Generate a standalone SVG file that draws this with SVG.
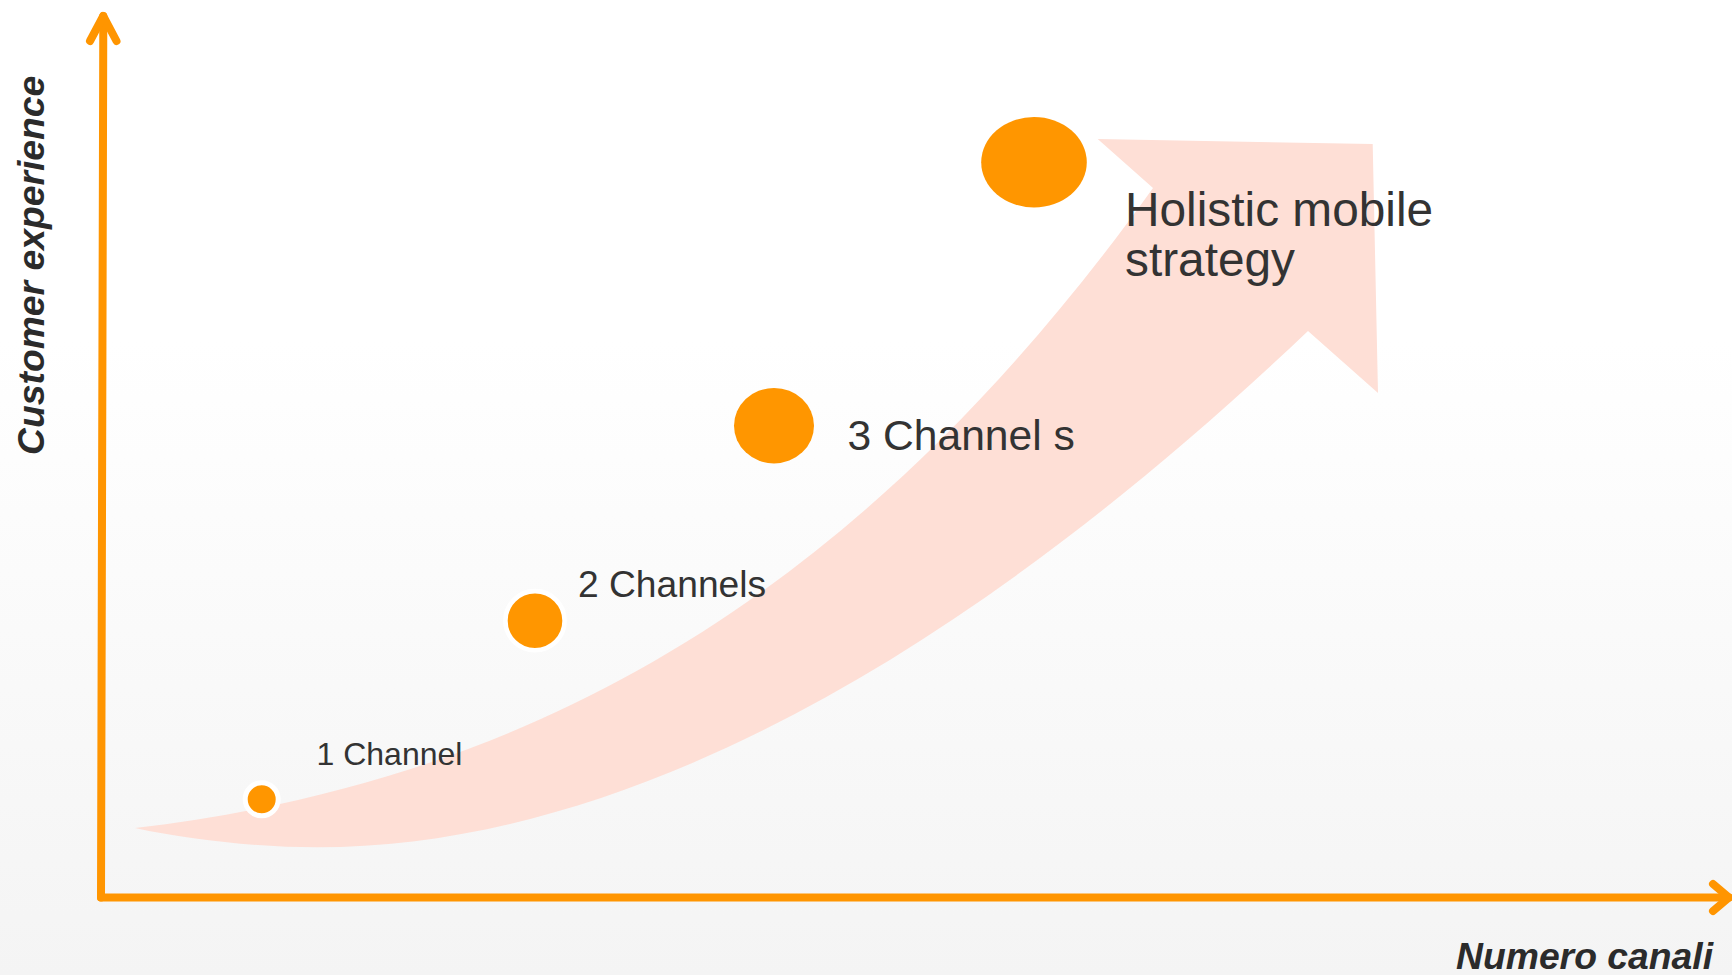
<svg xmlns="http://www.w3.org/2000/svg" width="1732" height="975" viewBox="0 0 1732 975">
  <defs>
    <linearGradient id="bg" x1="0" y1="0" x2="0" y2="1">
      <stop offset="0" stop-color="#FFFFFF"/>
      <stop offset="0.35" stop-color="#FFFFFF"/>
      <stop offset="1" stop-color="#F4F4F4"/>
    </linearGradient>
  </defs>
  <style>
    .axis { fill: none; stroke: #FF9500; stroke-width: 8; stroke-linecap: round; stroke-linejoin: round; }
    .dot { fill: #FF9600; }
    .lbl { font-family: "Liberation Sans", Arial, sans-serif; fill: #333333; }
    .axlbl { font-family: "Liberation Sans", Arial, sans-serif; fill: #2B2B2B; font-weight: bold; font-style: italic; font-size: 37.3px; }
  </style>
  <rect x="0" y="0" width="1732" height="975" fill="url(#bg)"/>

  <g id="growth-arrow">
    <path fill="#FEDFD6" d="M135,828 C520,782 850,610 1153,188 L1097.7,139 L1372.7,144 L1378,393 L1308,331 C978,644.5 636.7,847.3 316.7,847.3 C260,847.3 190,840 135,828 Z"/>
  </g>

  <g id="connectors">
    <path class="axis" d="M101,897.5 L103.3,16"/>
    <path class="axis" d="M90,41 L103.3,16 L116.5,41"/>
    <path class="axis" d="M101,897.5 L1729,897.5"/>
    <path class="axis" d="M1713,884 L1729,897.5 L1713,911"/>
  </g>

  <g id="y-label">
    <text class="axlbl" transform="translate(44,455) rotate(-90)">Customer experience</text>
  </g>
  <g id="x-label">
    <text class="axlbl" x="1456" y="969">Numero canali</text>
  </g>

  <g id="node-1">
    <circle class="dot" cx="261.7" cy="799.3" r="16.5" stroke="#FFFFFF" stroke-width="5"/>
    <text class="lbl" x="316.5" y="765" font-size="32">1 Channel</text>
  </g>
  <g id="node-2">
    <circle class="dot" cx="535" cy="620.7" r="29.6" stroke="#FFFFFF" stroke-width="4.6"/>
    <text class="lbl" x="578" y="596.7" font-size="37.2">2 Channels</text>
  </g>
  <g id="node-3">
    <ellipse class="dot" cx="774" cy="425.7" rx="40" ry="37.7"/>
    <text class="lbl" x="847.5" y="450" font-size="42.6">3 Channel s</text>
  </g>
  <g id="node-4">
    <ellipse class="dot" cx="1034" cy="162.3" rx="52.8" ry="45.2"/>
    <text class="lbl" font-size="47.8"><tspan x="1125" y="226">Holistic mobile</tspan><tspan x="1125" y="276">strategy</tspan></text>
  </g>
</svg>
